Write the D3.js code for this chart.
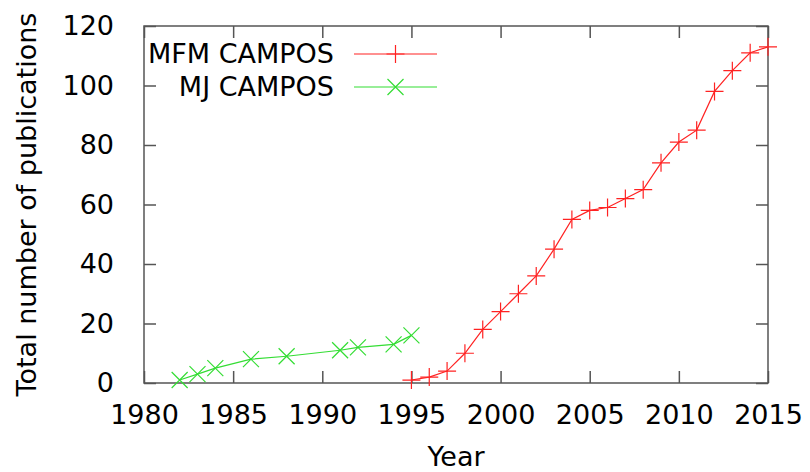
<!DOCTYPE html>
<html>
<head>
<meta charset="utf-8">
<script src="https://cdn.jsdelivr.net/npm/d3@7"></script>
<style>
  body { margin: 0; background: #fff; }
  text { font-family: "DejaVu Sans", sans-serif; fill: #000; }
</style>
</head>
<body>
<div id="chart"></div>
<script>
// publication counts
var mfmYears = [1995, 1996, 1997, 1998, 1999, 2000, 2001, 2002, 2003, 2004, 2005,
                2006, 2007, 2008, 2009, 2010, 2011, 2012, 2013, 2014, 2015];
var mfmTotals = [1, 2, 4, 10, 18, 24, 30, 36, 45, 55, 58,
                 59, 62, 65, 74, 81, 85, 98, 105, 111, 113];
var mjYears = [1982, 1983, 1984, 1986, 1988, 1991, 1992, 1994, 1995];
var mjTotals = [1, 3, 5, 8, 9, 11, 12, 13, 16];

var xTicks = [1980, 1985, 1990, 1995, 2000, 2005, 2010, 2015];
var yTicks = [0, 20, 40, 60, 80, 100, 120];

var svgWidth = 810;
var svgHeight = 472;
var margin = { top: 26, right: 42, bottom: 89, left: 144 };
var width = svgWidth - margin.left - margin.right;
var height = svgHeight - margin.top - margin.bottom;
var fontSize = "27px";

var svg = d3.select("#chart")
    .append("svg")
    .attr("width", svgWidth)
    .attr("height", svgHeight);

var chartGroup = svg.append("g")
    .attr("transform", `translate(${margin.left}, ${margin.top})`);

var x = d3.scaleLinear().domain([1980, 2015]).range([0, width]);
var y = d3.scaleLinear().domain([0, 120]).range([height, 0]);

var tickLen = 12;
var borderColor = "#555";

// ticks on all four sides, pointing inward (gnuplot style)
function styleAxis(g) {
    g.select(".domain").remove();
    g.selectAll(".tick line").attr("stroke", borderColor).attr("stroke-width", 1.5);
}

chartGroup.append("g")
    .attr("transform", `translate(0, ${height})`)
    .call(d3.axisBottom(x).tickValues(xTicks).tickFormat(d3.format("d"))
        .tickSizeInner(-tickLen).tickPadding(22))
    .call(styleAxis)
    .selectAll("text").style("font-size", fontSize).attr("font-family", null);

chartGroup.append("g")
    .call(d3.axisTop(x).tickValues(xTicks).tickFormat("").tickSizeInner(-tickLen))
    .call(styleAxis);

chartGroup.append("g")
    .call(d3.axisLeft(y).tickValues(yTicks)
        .tickSizeInner(-tickLen).tickPadding(tickLen + 18))
    .call(styleAxis)
    .selectAll("text").style("font-size", fontSize).attr("font-family", null);

chartGroup.append("g")
    .attr("transform", `translate(${width}, 0)`)
    .call(d3.axisRight(y).tickValues(yTicks).tickFormat("").tickSizeInner(-tickLen))
    .call(styleAxis);

chartGroup.append("rect")
    .attr("width", width)
    .attr("height", height)
    .attr("fill", "none")
    .attr("stroke", borderColor)
    .attr("stroke-width", 1.5);

var red = "#f22";
var green = "#3d3";

function drawSeries(years, totals, color, marker) {
    var pts = years.map((yr, i) => [x(yr), y(totals[i])]);
    chartGroup.append("path")
        .attr("d", d3.line()(pts))
        .attr("fill", "none")
        .attr("stroke", color)
        .attr("stroke-width", 1.2);
    chartGroup.selectAll(null)
        .data(pts)
        .enter()
        .append("path")
        .attr("d", d => marker(d[0], d[1]))
        .attr("fill", "none")
        .attr("stroke", color)
        .attr("stroke-width", 1.2);
}

function plus(cx, cy) {
    var s = 9;
    return `M${cx - s},${cy}H${cx + s}M${cx},${cy - s}V${cy + s}`;
}
function cross(cx, cy) {
    var s = 8;
    return `M${cx - s},${cy - s}L${cx + s},${cy + s}M${cx - s},${cy + s}L${cx + s},${cy - s}`;
}

drawSeries(mfmYears, mfmTotals, red, plus);
drawSeries(mjYears, mjTotals, green, cross);

// legend
var legend = [
    { name: "MFM CAMPOS", color: red, marker: plus },
    { name: "MJ CAMPOS", color: green, marker: cross }
];
legend.forEach(function(item, i) {
    var ly = 54 + i * 33;
    svg.append("text")
        .attr("x", 334)
        .attr("y", ly)
        .attr("dy", "0.35em")
        .attr("text-anchor", "end")
        .style("font-size", fontSize)
        .text(item.name);
    svg.append("line")
        .attr("x1", 354).attr("x2", 437)
        .attr("y1", ly).attr("y2", ly)
        .attr("stroke", item.color)
        .attr("stroke-width", 1.2);
    svg.append("path")
        .attr("d", item.marker(395.5, ly))
        .attr("fill", "none")
        .attr("stroke", item.color)
        .attr("stroke-width", 1.2);
});

// axis titles
svg.append("text")
    .attr("x", margin.left + width / 2)
    .attr("y", 466)
    .attr("text-anchor", "middle")
    .style("font-size", fontSize)
    .text("Year");

svg.append("text")
    .attr("transform", `translate(36, ${margin.top + height / 2}) rotate(-90)`)
    .attr("text-anchor", "middle")
    .style("font-size", fontSize)
    .text("Total number of publications");
</script>
</body>
</html>
